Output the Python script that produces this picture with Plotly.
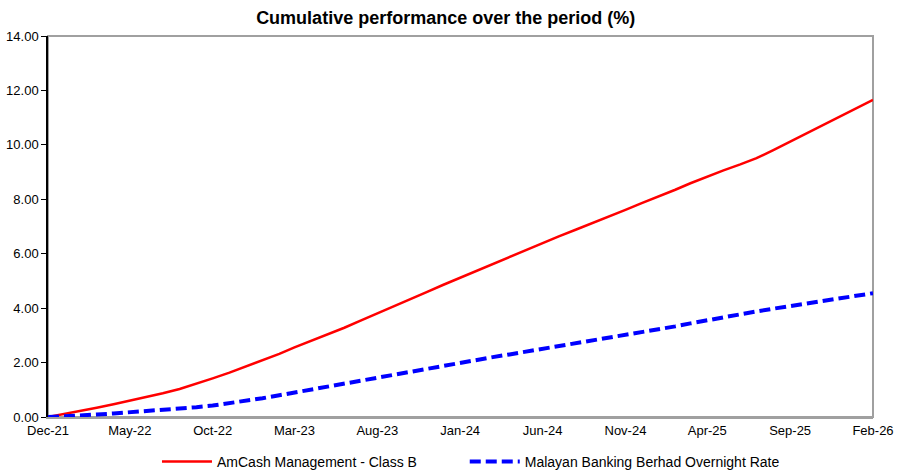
import plotly.graph_objects as go
import pandas as pd

months = pd.date_range("2021-12-01", "2026-02-01", freq="MS")

amcash = [0.00, 0.11, 0.22, 0.34, 0.47, 0.60, 0.73, 0.87, 1.03, 1.22,
          1.42, 1.63, 1.85, 2.08, 2.32, 2.56, 2.80, 3.04, 3.28, 3.54,
          3.80, 4.07, 4.34, 4.60, 4.86, 5.12, 5.37, 5.62, 5.88, 6.14,
          6.39, 6.64, 6.88, 7.12, 7.37, 7.61, 7.86, 8.10, 8.35, 8.59,
          8.84, 9.06, 9.28, 9.51, 9.81, 10.12, 10.42, 10.73, 11.04, 11.35,
          11.65]

maybank = [0.00, 0.02, 0.05, 0.09, 0.13, 0.17, 0.21, 0.26, 0.31, 0.36,
           0.42, 0.50, 0.59, 0.69, 0.80, 0.90, 1.01, 1.13, 1.24, 1.36,
           1.47, 1.58, 1.69, 1.79, 1.89, 2.00, 2.10, 2.20, 2.30, 2.40,
           2.50, 2.60, 2.70, 2.80, 2.90, 3.00, 3.11, 3.22, 3.33, 3.44,
           3.56, 3.67, 3.79, 3.88, 3.98, 4.07, 4.17, 4.26, 4.36, 4.45,
           4.55]

series_names = ["AmCash Management - Class B",
                "Malayan Banking Berhad Overnight Rate"]

tick_labels = ["Dec-21", "May-22", "Oct-22", "Mar-23", "Aug-23", "Jan-24",
               "Jun-24", "Nov-24", "Apr-25", "Sep-25", "Feb-26"]
tick_dates = list(months[::5])

y_ticks = [0, 2, 4, 6, 8, 10, 12, 14]

FONT = "Liberation Sans, Arial, sans-serif"
PAD = "\u00a0" * 11  # extra spacing between legend entries

fig = go.Figure()
fig.add_trace(go.Scatter(x=months, y=amcash, mode="lines",
                         name=series_names[0] + PAD,
                         line=dict(color="#ff0000", width=2.5)))
fig.add_trace(go.Scatter(x=months, y=maybank, mode="lines",
                         name=series_names[1],
                         line=dict(color="#0000ff", width=4, dash="11px,5px")))

fig.update_layout(
    width=904, height=475,
    margin=dict(l=48, r=31, t=36, b=58, autoexpand=False),
    paper_bgcolor="white", plot_bgcolor="white",
    font=dict(family=FONT, size=13, color="#000000"),
    title=dict(text="<b>Cumulative performance over the period (%)</b>",
               x=0.493, xanchor="center", y=1 - 18 / 475, yanchor="middle",
               yref="container",
               font=dict(family=FONT, size=18, color="#000000")),
    showlegend=True,
    legend=dict(orientation="h", xref="container", yref="container",
                x=0.521, xanchor="center", y=1 - 462 / 475, yanchor="middle",
                font=dict(family=FONT, size=14),
                itemwidth=50, tracegroupgap=0),
    shapes=[dict(type="rect", xref="paper", yref="paper", x0=0, x1=1, y0=0, y1=1,
                 line=dict(color="#a0a0a0", width=2), layer="below")],
)

fig.update_xaxes(
    range=[months[0], months[-1]],
    tickvals=tick_dates, ticktext=tick_labels,
    showgrid=False, zeroline=False, automargin=False,
    showline=True, linecolor="#a0a0a0", linewidth=2,
    ticks="", tickfont=dict(family=FONT, size=13, color="#000000"),
)
fig.update_yaxes(
    range=[0, 14],
    tickvals=y_ticks, tickformat=".2f",
    showgrid=False, zeroline=False, automargin=False,
    showline=True, linecolor="#000000", linewidth=1.5,
    ticks="outside", ticklen=5, tickcolor="#000000", tickwidth=1,
    tickfont=dict(family=FONT, size=13, color="#000000"),
)

fig.write_html("out.html",
               config={"displayModeBar": False},
               post_script="document.body.style.margin='0';document.body.style.overflow='hidden';")
